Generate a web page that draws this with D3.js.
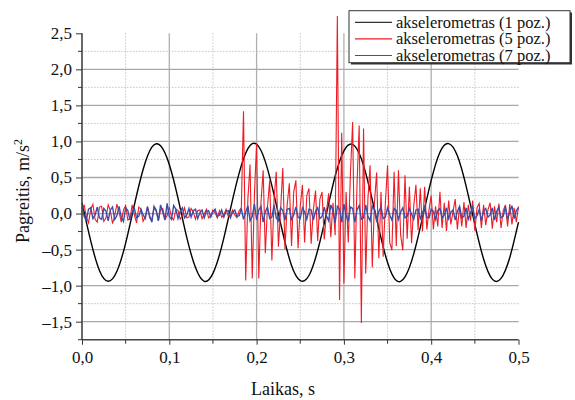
<!DOCTYPE html>
<meta charset="utf-8">
<script src="https://d3js.org/d3.v7.min.js"></script>
<style>
  body { margin: 0; background: #fff; }
  text { font-family: "Liberation Serif", "Times New Roman", serif; fill: #111; }
</style>
<div id="my_dataviz"></div>
<script>

// ---- data ----
var seriesNames = ["akselerometras (1 poz.)", "akselerometras (5 poz.)", "akselerometras (7 poz.)"];
var seriesColors = ["#000000", "#ee1c25", "#3a4ea8"];

var xTicks = [0, 0.1, 0.2, 0.3, 0.4, 0.5];
var xTickLabels = ["0,0", "0,1", "0,2", "0,3", "0,4", "0,5"];
var yTicks = [-1.5, -1, -0.5, 0, 0.5, 1, 1.5, 2, 2.5];
var yTickLabels = ["\u20131,5", "\u20131,0", "\u20130,5", "0,0", "0,5", "1,0", "1,5", "2,0", "2,5"];

// accelerometer 1 (black), one sample every 0.01 s
var blackStep = 0.01;
var black = [0.15, -0.38, -0.79, -0.94, -0.80, -0.41, 0.12, 0.61, 0.92, 0.94,
  0.68, 0.21, -0.33, -0.75, -0.94, -0.83, -0.46, 0.06, 0.56, 0.90,
  0.96, 0.72, 0.26, -0.27, -0.72, -0.93, -0.86, -0.51, 0.00, 0.52,
  0.87, 0.96, 0.76, 0.32, -0.21, -0.68, -0.93, -0.88, -0.56, -0.06,
  0.46, 0.85, 0.97, 0.80, 0.38, -0.15, -0.63, -0.91, -0.90, -0.61,
  -0.12];

// accelerometer 5 (red), one sample every 0.0025 s
var noiseStep = 0.0025;
var red = [0.02, 0.12, -0.05, -0.13, 0.06, 0.13, -0.08, -0.12, 0.09, 0.10,
  -0.11, -0.06, 0.12, 0.04, -0.14, -0.03, 0.13, 0.02, -0.12, 0.05,
  0.11, -0.09, -0.07, 0.12, -0.02, -0.13, 0.09, 0.06, -0.11, -0.04,
  0.10, -0.06, -0.09, 0.08, 0.03, -0.10, 0.05, 0.07, -0.08, -0.03,
  0.09, -0.05, -0.09, 0.06, 0.04, -0.08, -0.02, 0.08, -0.06, -0.05,
  0.07, 0.02, -0.08, 0.04, 0.05, -0.07, -0.01, 0.06, -0.06, -0.03,
  0.05, 0.01, -0.06, 0.04, -0.05, -0.02, 0.06, -0.04, -0.03, 0.05,
  -0.02, -0.06, 0.04, 0.08, 1.42, -0.93, 0.20, 0.68, -0.90, 0.25,
  0.98, -0.90, 0.15, 0.60, -0.55, 0.10, 0.46, -0.65, 0.20, 0.58,
  -0.46, 0.05, 0.63, -0.50, 0.12, 0.42, -0.45, 0.30, 0.46, -0.48,
  0.10, 0.40, -0.40, 0.25, 0.35, -0.42, 0.05, 0.32, -0.38, 0.20,
  0.30, -0.36, 0.02, 0.28, -0.33, 0.15, -0.30, 2.74, -1.20, 1.12,
  -0.97, 0.30, -0.40, 0.56, 1.27, -0.90, 0.40, 1.22, -1.52, 1.18,
  -0.83, 0.20, 0.67, -0.75, 0.15, 0.57, -0.62, 0.30, -0.60, 0.15,
  0.67, -0.40, -0.51, 0.58, -0.45, 0.60, -0.30, -0.51, 0.53, -0.35,
  0.37, -0.41, 0.10, 0.40, -0.23, 0.35, -0.25, 0.37, -0.22, 0.05,
  0.25, -0.22, 0.10, -0.18, 0.30, -0.20, 0.15, -0.24, 0.18, -0.15,
  0.03, 0.20, -0.22, 0.10, -0.18, 0.16, -0.20, 0.12, -0.10, 0.18,
  -0.24, 0.08, 0.14, -0.20, 0.12, -0.16, 0.05, 0.15, -0.21, 0.10,
  -0.12, 0.14, -0.20, 0.04, 0.12, -0.18, 0.13, -0.15, 0.08, -0.12,
  0.10];

// accelerometer 7 (blue), one sample every 0.0025 s
var blue = [0.10, -0.04, -0.09, 0.06, 0.08, -0.07, -0.02, 0.09, -0.06, -0.08,
  0.07, 0.03, -0.10, 0.05, 0.09, -0.08, -0.03, 0.10, -0.05, -0.11,
  0.08, 0.04, -0.09, 0.02, 0.07, -0.06, -0.04, 0.06, -0.02, -0.07,
  0.09, -0.03, -0.12, 0.10, 0.05, -0.10, 0.12, 0.02, -0.09, 0.14,
  -0.04, -0.08, 0.11, 0.06, -0.07, 0.03, 0.08, -0.06, -0.02, 0.07,
  -0.05, 0.04, 0.06, -0.07, 0.01, 0.05, -0.06, 0.03, 0.04, -0.05,
  0.02, 0.06, -0.04, -0.02, 0.05, -0.05, 0.03, 0.04, -0.06, 0.02,
  0.05, -0.04, -0.03, 0.07, -0.08, 0.02, 0.11, -0.10, -0.04, 0.13,
  -0.09, 0.05, 0.10, -0.12, 0.03, 0.09, -0.07, -0.05, 0.12, -0.06,
  -0.10, 0.08, 0.04, -0.09, 0.06, 0.07, -0.08, -0.02, 0.09, -0.05,
  -0.07, 0.08, 0.02, -0.08, 0.06, 0.05, -0.09, 0.03, 0.08, -0.07,
  -0.04, 0.09, -0.03, -0.10, 0.12, 0.04, -0.13, 0.10, 0.06, -0.12,
  0.13, -0.02, -0.11, 0.09, 0.07, -0.12, 0.05, 0.11, -0.08, -0.06,
  0.12, -0.04, -0.10, 0.10, 0.06, -0.11, 0.03, 0.09, -0.07, -0.05,
  0.08, -0.02, -0.09, 0.07, 0.04, -0.08, 0.02, 0.08, -0.06, -0.04,
  0.07, -0.01, -0.08, 0.05, 0.06, -0.07, 0.01, 0.09, -0.05, -0.06,
  0.06, 0.03, -0.08, 0.04, 0.07, -0.06, -0.02, 0.08, -0.07, 0.02,
  0.05, -0.09, 0.03, 0.10, -0.06, -0.04, 0.08, -0.08, 0.01, 0.09,
  -0.07, -0.03, 0.06, -0.10, 0.04, 0.07, -0.05, -0.02, 0.08, -0.09,
  0.03, 0.09, -0.06, -0.04, 0.10, -0.08, 0.02, 0.11, -0.07, 0.04,
  0.08];

// ---- layout ----
var W = 575, H = 400;
var plot = {left: 82, right: 518.5, top: 33.3, bottom: 339.7};

var svg = d3.select("#my_dataviz")
  .append("svg")
    .attr("width", W)
    .attr("height", H);

var x = d3.scaleLinear().domain([0, 0.5]).range([plot.left, plot.right]);
var y = d3.scaleLinear().domain([-1.75, 2.5]).range([plot.bottom, plot.top]);

// grid: minor dotted, major solid
var grid = svg.append("g");
var xMinor = x.ticks(10).filter(function(d){ return Math.round(d * 100) % 10 !== 0; });
var xMajor = xTicks.filter(function(d){ return d > 0 && d < 0.5; });
var yMinor = d3.range(-1.25, 2.3, 0.5);
var yMajor = yTicks.filter(function(d){ return d < 2.5; });

grid.selectAll(".xminor").data(xMinor).enter().append("line")
  .attr("x1", function(d){ return x(d); }).attr("x2", function(d){ return x(d); })
  .attr("y1", plot.top).attr("y2", plot.bottom)
  .attr("stroke", "#b8b8b8").attr("stroke-width", 0.8).attr("stroke-dasharray", "1.5,1.5");
grid.selectAll(".yminor").data(yMinor).enter().append("line")
  .attr("x1", plot.left).attr("x2", plot.right)
  .attr("y1", function(d){ return y(d); }).attr("y2", function(d){ return y(d); })
  .attr("stroke", "#b8b8b8").attr("stroke-width", 0.8).attr("stroke-dasharray", "1.5,1.5");
grid.selectAll(".xmajor").data(xMajor).enter().append("line")
  .attr("x1", function(d){ return x(d); }).attr("x2", function(d){ return x(d); })
  .attr("y1", plot.top).attr("y2", plot.bottom)
  .attr("stroke", "#b0b0b0").attr("stroke-width", 1.3);
grid.selectAll(".ymajor").data(yMajor).enter().append("line")
  .attr("x1", plot.left).attr("x2", plot.right)
  .attr("y1", function(d){ return y(d); }).attr("y2", function(d){ return y(d); })
  .attr("stroke", "#a8a8a8").attr("stroke-width", 1.3);

// series
var smoothLine = d3.line()
  .x(function(d, i){ return x(i * blackStep); })
  .y(function(d){ return y(d); })
  .curve(d3.curveNatural);
var rawLine = d3.line()
  .x(function(d, i){ return x(i * noiseStep); })
  .y(function(d){ return y(d); });

svg.append("path").datum(black)
  .attr("d", smoothLine).attr("fill", "none")
  .attr("stroke", seriesColors[0]).attr("stroke-width", 1.4);
svg.append("path").datum(red)
  .attr("d", rawLine).attr("fill", "none")
  .attr("stroke", seriesColors[1]).attr("stroke-width", 1.1);
svg.append("path").datum(blue)
  .attr("d", rawLine).attr("fill", "none")
  .attr("stroke", seriesColors[2]).attr("stroke-width", 1.4);

// axes
var yAxis = d3.axisLeft(y)
  .tickValues(yTicks)
  .tickFormat(function(d, i){ return yTickLabels[i]; })
  .tickSize(6).tickPadding(4);
var gy = svg.append("g")
  .attr("transform", "translate(" + plot.left + ",0)")
  .call(yAxis);
gy.select(".domain").attr("d", "M0," + plot.top + "V" + plot.bottom);
gy.selectAll(".tick line").attr("stroke", "#333");
gy.selectAll("text").style("font-size", "17px").attr("fill", "#111");

svg.append("g").selectAll("line").data(d3.range(-1.75, 2.5, 0.5)).enter().append("line")
  .attr("x1", plot.left - 4).attr("x2", plot.left)
  .attr("y1", function(d){ return y(d); }).attr("y2", function(d){ return y(d); })
  .attr("stroke", "#333");

var xAxis = d3.axisBottom(x)
  .tickValues(xTicks)
  .tickFormat(function(d, i){ return xTickLabels[i]; })
  .tickSize(5).tickPadding(6);
var gx = svg.append("g")
  .attr("transform", "translate(0," + plot.bottom + ")")
  .call(xAxis);
gx.select(".domain").attr("d", "M" + plot.left + ",0H" + plot.right);
gx.selectAll(".tick line").attr("stroke", "#333");
gx.selectAll("text").style("font-size", "17px").attr("fill", "#111");

svg.append("g").selectAll("line").data(xMinor).enter().append("line")
  .attr("x1", function(d){ return x(d); }).attr("x2", function(d){ return x(d); })
  .attr("y1", plot.bottom).attr("y2", plot.bottom + 4)
  .attr("stroke", "#333");

svg.selectAll(".domain").attr("stroke", "#444").attr("stroke-width", 1.6);

// axis titles
svg.append("text")
  .attr("text-anchor", "middle")
  .attr("x", 283)
  .attr("y", 395)
  .style("font-size", "18px")
  .text("Laikas, s");

var yt = svg.append("text")
  .attr("text-anchor", "middle")
  .attr("transform", "translate(29,191) rotate(-90)")
  .style("font-size", "18px");
yt.append("tspan").text("Pagreitis, m/s");
yt.append("tspan").attr("dy", -7).style("font-size", "12px").text("2");

// legend
var lg = svg.append("g");
lg.append("rect")
  .attr("x", 351).attr("y", 12.5).attr("width", 221).attr("height", 52)
  .attr("fill", "#333");
lg.append("rect")
  .attr("x", 349).attr("y", 10.7).attr("width", 221).attr("height", 52)
  .attr("fill", "#fff").attr("stroke", "#333").attr("stroke-width", 1);
lg.selectAll(".lgline").data(seriesNames).enter().append("line")
  .attr("x1", 355).attr("x2", 392)
  .attr("y1", function(d, i){ return 22.3 + i * 16.6; })
  .attr("y2", function(d, i){ return 22.3 + i * 16.6; })
  .attr("stroke", function(d, i){ return seriesColors[i] === "#000000" ? "#333" : seriesColors[i]; })
  .attr("stroke-width", 1.2);
lg.selectAll(".lgtext").data(seriesNames).enter().append("text")
  .attr("x", 396)
  .attr("y", function(d, i){ return 27.5 + i * 16.6; })
  .style("font-size", "16.5px")
  .text(function(d){ return d; });

</script>
